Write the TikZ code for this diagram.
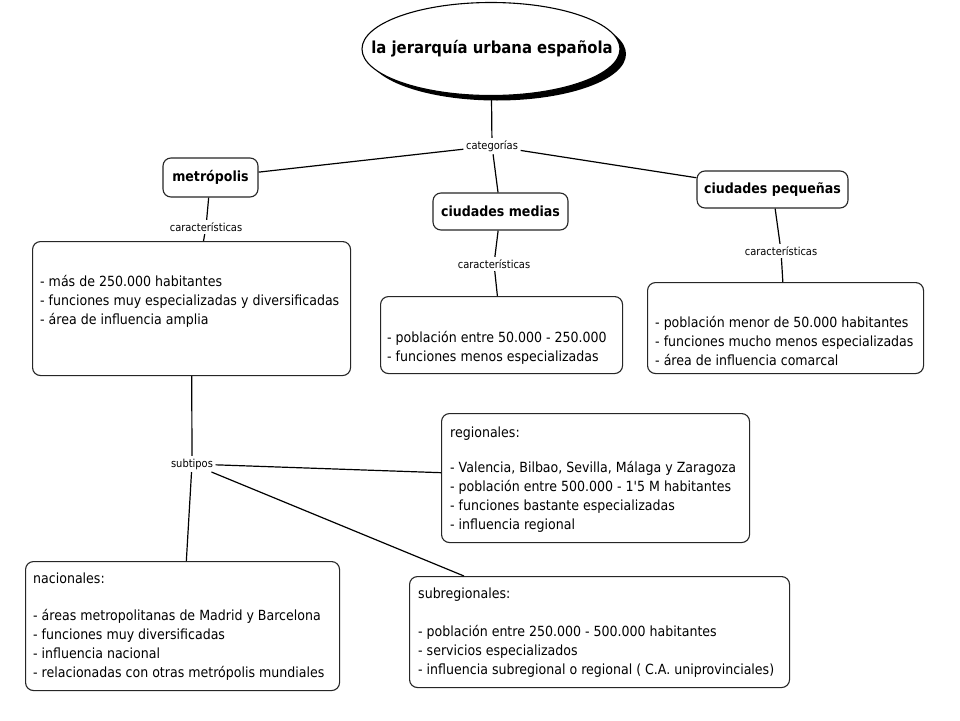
\documentclass[tikz,border=0pt]{standalone}
\usepackage{fontspec}
\setmainfont{DejaVu Sans Condensed}
\usetikzlibrary{shapes.geometric}
\begin{document}
\begin{tikzpicture}[x=1pt,y=-1pt,
  box/.style={draw=black!85, line width=1.1pt, rounded corners=8pt, anchor=north west, inner sep=0pt, fill=white},
  headbox/.style={draw=black!85, line width=1.1pt, rounded corners=8pt, inner sep=0pt, fill=white, font=\bfseries\fontsize{14}{16}\selectfont},
  lbl/.style={font=\fontsize{11}{13}\selectfont, inner sep=2.5pt, fill=white},
  txt/.style={anchor=north west, align=left, font=\fontsize{14}{19}\selectfont, inner sep=0pt},
  link/.style={line width=1.2pt, black}]
\useasboundingbox (0,0) rectangle (960,720);
\fill[white] (0,0) rectangle (960,720);

% title
\node[ellipse, fill=black, minimum width=258, minimum height=93, inner sep=0pt] (tshadow) at (497,54) {};
\node[ellipse, draw=black, line width=1.1pt, fill=white, minimum width=258, minimum height=93, inner sep=0pt] (title) at (491,49) {};
\node[font=\bfseries\fontsize{16.5}{18}\selectfont, inner sep=0pt] (ttext) at (492,49) {la jerarquía urbana española};

% labels
\node[lbl] (cat) at (492,146) {categorías};
\node[lbl] (c1) at (206,227) {características};
\node[lbl] (c2) at (494,264) {características};
\node[lbl] (c3) at (781,251) {características};
\node[lbl] (sub) at (192,464) {subtipos};

% category boxes
\node[headbox, minimum width=95, minimum height=39] (metro) at (210.5,177.5) {metrópolis};
\node[headbox, minimum width=135, minimum height=37] (medias) at (500.5,211.5) {ciudades medias};
\node[headbox, minimum width=151, minimum height=37] (peq) at (772.5,189.5) {ciudades pequeñas};

% characteristic boxes
\node[box, minimum width=318, minimum height=134] (mbox) at (32,241) {};
\node[txt] (mtext) at (40,275) {- más de 250.000 habitantes\\- funciones muy especializadas y diversificadas\\- área de influencia amplia};

\node[box, minimum width=242, minimum height=77] (medbox) at (380,296) {};
\node[txt] (medtext) at (387,331) {- población entre 50.000 - 250.000\\- funciones menos especializadas};

\node[box, minimum width=276, minimum height=91] (pbox) at (647,282) {};
\node[txt] (ptext) at (655,316) {- población menor de 50.000 habitantes\\- funciones mucho menos especializadas\\- área de influencia comarcal};

% subtype boxes
\node[box, minimum width=308, minimum height=129] (rbox) at (441,413) {};
\node[txt] (rtext) at (450,427) {regionales:\\[16pt]- Valencia, Bilbao, Sevilla, Málaga y Zaragoza\\- población entre 500.000 - 1\textquotesingle 5 M habitantes\\- funciones bastante especializadas\\- influencia regional};

\node[box, minimum width=314, minimum height=129] (nbox) at (25,561) {};
\node[txt] (ntext) at (33,573) {nacionales:\\[18pt]- áreas metropolitanas de Madrid y Barcelona\\- funciones muy diversificadas\\- influencia nacional\\- relacionadas con otras metrópolis mundiales};

\node[box, minimum width=380, minimum height=111] (sbox) at (409,576) {};
\node[txt] (stext) at (418,588) {subregionales:\\[19pt]- población entre 250.000 - 500.000 habitantes\\- servicios especializados\\- influencia subregional o regional ( C.A. uniprovinciales)};

% connectors
\draw[link] (title) -- (cat);
\draw[link] (cat) -- (metro);
\draw[link] (cat) -- (medias);
\draw[link] (cat) -- (peq);
\draw[link] (metro) -- (c1);
\draw[link] (c1) -- (mbox);
\draw[link] (medias) -- (c2);
\draw[link] (c2) -- (medbox);
\draw[link] (peq) -- (c3);
\draw[link] (c3) -- (pbox);
\draw[link] (mbox) -- (sub);
\draw[link] (sub) -- (rbox);
\draw[link] (sub) -- (nbox);
\draw[link] (sub) -- (sbox);
\end{tikzpicture}
\end{document}
